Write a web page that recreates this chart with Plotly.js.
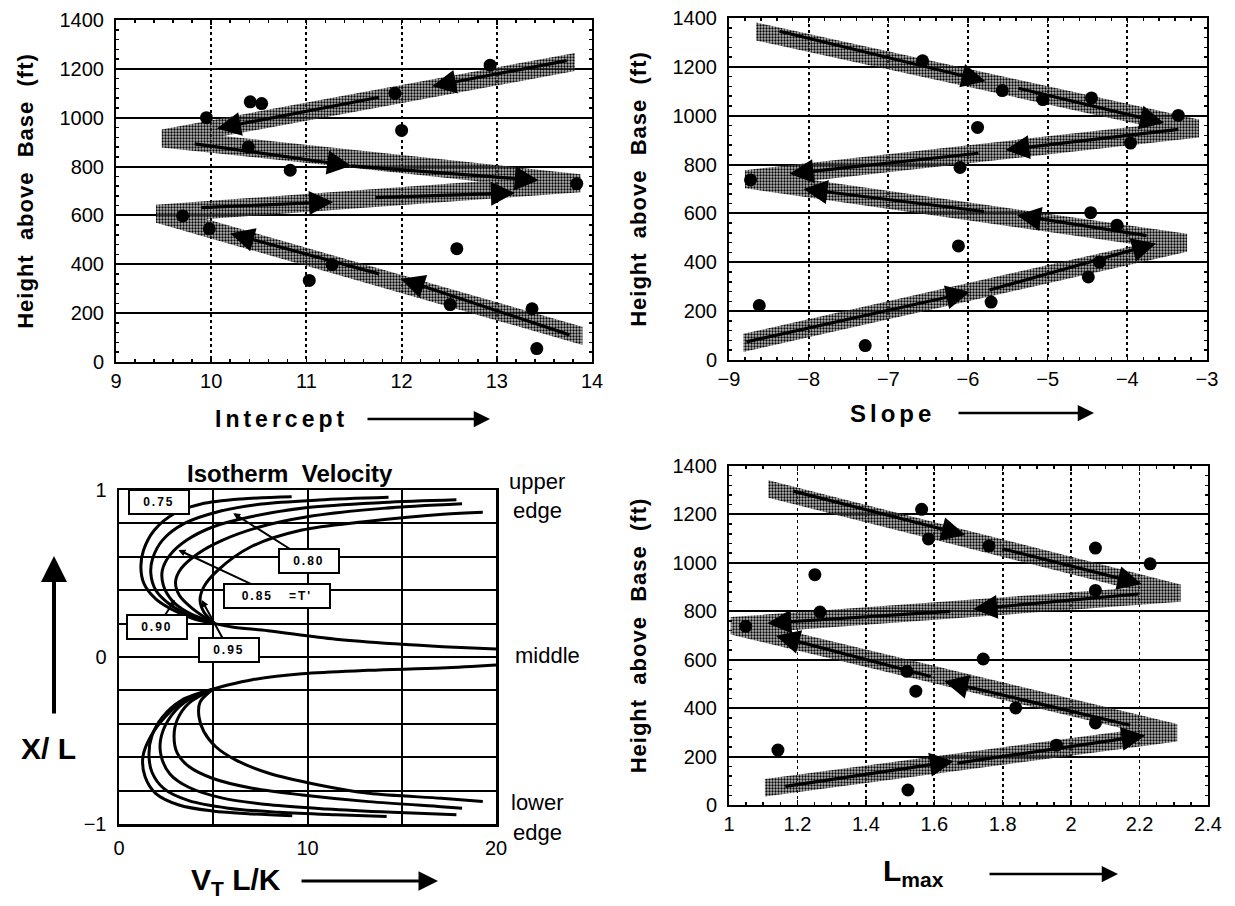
<!DOCTYPE html>
<html><head><meta charset="utf-8">
<script src="https://cdn.plot.ly/plotly-3.0.1.min.js"></script>
<style>
html,body{margin:0;padding:0;background:#fff;}
#chart{width:1235px;height:906px;}
.ytitle,.y2title,.y4title{letter-spacing:1px;}
</style>
</head><body><div id="chart"></div>
<script>
// ---------- Panel 1: Intercept ----------
const interceptX = [12.93,11.93,10.41,10.53,9.95,12.0,10.39,10.83,13.84,9.70,9.98,12.58,11.27,11.03,12.51,13.37,13.42];
const interceptH = [1215,1100,1065,1058,1000,948,880,785,730,598,545,464,398,334,235,218,55];
const interceptBandX = [13.9,9.42,13.88,9.48,13.82];
const interceptBandH = [107,607,732,915,1228];
const interceptArrTailX = [13.75,11.78,9.81,11.45,9.88,11.71,11.78,13.78];
const interceptArrTailH = [1235,1085,894,803,632,673,359,109];
const interceptArrHeadX = [12.32,10.06,11.47,13.44,11.28,13.19,10.20,11.99];
const interceptArrHeadH = [1129,956,803,744,655,692,526,341];

// ---------- Panel 2: Slope ----------
const slopeX = [-6.57,-5.57,-5.06,-4.45,-3.36,-5.88,-3.96,-6.10,-8.73,-4.46,-4.13,-6.12,-4.35,-4.49,-5.71,-8.62,-7.29];
const slopeH = [1225,1103,1066,1073,1001,952,888,788,737,603,552,467,401,340,237,223,59];
const slopeBandX = [-8.82,-3.25,-8.8,-3.1,-8.66];
const slopeBandH = [70,480,740,948,1345];
const slopeArrTailX = [-8.385,-5.385,-3.34,-5.85,-3.74,-5.78,-8.80,-5.75];
const slopeArrTailH = [1347,1114,945,847,508,607,73,285];
const slopeArrHeadX = [-5.78,-3.54,-5.53,-8.24,-5.385,-8.065,-5.975,-3.64];
const slopeArrHeadH = [1141,970,860,762,593,700,278,477];

// ---------- Panel 4: Lmax ----------
const lmaxX = [1.563,1.583,1.76,2.071,2.231,1.251,2.071,1.266,1.049,1.743,1.52,1.546,1.838,2.071,1.957,1.143,1.523];
const lmaxH = [1221,1099,1070,1061,996,951,886,797,738,603,552,470,401,339,247,227,62];
const lmaxBandX = [1.105,2.31,1.005,2.32,1.115];
const lmaxBandH = [71,298,740,875,1305];
const lmaxArrTailX = [1.183,1.794,2.20,1.651,2.177,1.594,1.16,1.663];
const lmaxArrTailH = [1298,1060,872,800,328,529,76,172];
const lmaxArrHeadX = [1.691,2.206,1.714,1.112,1.629,1.137,1.657,2.217];
const lmaxArrHeadH = [1115,913,809,751,511,699,181,287];

// ---------- Panel 3: Isotherm velocity (V_T L/K vs X/L) ----------
const isoLabels = ['0.75','0.80','0.85','0.90','0.95'];
const upperV = [
  [9.16,6.49,4.36,2.94,1.87,1.30,1.16,1.33,1.96,2.94,4.0,5.07],
  [14.3,10.6,7.56,5.25,3.47,2.31,1.78,1.69,1.96,2.67,3.65,5.07],
  [17.9,14.0,10.0,7.0,5.0,3.6,2.7,2.3,2.35,2.8,3.6,5.07],
  [18.2,14.0,10.0,7.5,5.5,4.2,3.3,3.0,3.2,3.9,5.07],
  [19.3,17.2,13.0,9.7,7.0,5.25,4.5,4.3,4.5,5.07]
];
const upperX = [
  [0.96,0.946,0.916,0.859,0.759,0.639,0.538,0.438,0.347,0.277,0.227,0.2],
  [0.956,0.94,0.916,0.87,0.8,0.70,0.588,0.498,0.398,0.317,0.253,0.2],
  [0.941,0.925,0.895,0.84,0.78,0.70,0.61,0.52,0.43,0.34,0.27,0.2],
  [0.917,0.89,0.84,0.78,0.70,0.62,0.53,0.45,0.37,0.29,0.2],
  [0.867,0.855,0.81,0.76,0.66,0.52,0.42,0.34,0.27,0.2]
];
const lowerV = [
  [5.0,3.53,2.47,1.68,1.27,1.38,1.94,3.18,4.95,7.07,9.19],
  [5.0,3.3,2.3,1.75,1.59,1.75,2.4,3.7,5.8,8.5,11.5,14.2],
  [5.0,3.5,2.6,2.2,2.25,2.7,3.7,5.5,8.0,11.0,14.5,17.9],
  [5.0,3.71,3.09,2.92,3.09,3.71,4.95,7.07,9.72,13.25,17.1,18.2],
  [5.0,4.3,4.24,4.5,5.12,6.18,7.95,10.6,13.25,17.1,19.3]
];
const lowerX = [
  [-0.192,-0.256,-0.356,-0.476,-0.596,-0.716,-0.816,-0.886,-0.922,-0.94,-0.95],
  [-0.192,-0.26,-0.36,-0.47,-0.58,-0.69,-0.79,-0.86,-0.905,-0.93,-0.945,-0.955],
  [-0.192,-0.27,-0.38,-0.5,-0.6,-0.7,-0.78,-0.845,-0.885,-0.91,-0.93,-0.945],
  [-0.192,-0.276,-0.376,-0.476,-0.576,-0.656,-0.726,-0.786,-0.826,-0.866,-0.896,-0.905],
  [-0.192,-0.27,-0.356,-0.446,-0.536,-0.616,-0.696,-0.766,-0.816,-0.846,-0.865]
];
const tailUpperV = [5.07,6.0,7.9,11.5,15.0,17.2,20];
const tailUpperX = [0.2,0.18,0.157,0.106,0.076,0.062,0.048];
const tailLowerV = [5.0,5.83,7.07,9.7,13.25,17.1,20];
const tailLowerX = [-0.192,-0.166,-0.136,-0.1,-0.08,-0.066,-0.048];
// label boxes (box centre) and leader tips
const labelBoxV = [2.12,10.08,8.38,2.02,5.84];
const labelBoxX = [0.926,0.575,0.365,0.18,0.042];
const labelTipV = [null,6.06,3.15,2.97,4.39];
const labelTipX = [null,0.861,0.641,0.341,0.341];
const labelText = ['0.75','0.80','0.85\u00a0\u00a0\u00a0=T\'','0.90','0.95'];

// ---------- helpers ----------
const W = 1235, H = 906;
const FONT = 'Liberation Sans, Arial, Helvetica, sans-serif';
const px = x => x / W, py = y => 1 - y / H;

function bandTrace(xs, ys, half, xa, ya) {
  const bx = [], by = [];
  for (let i = 0; i < xs.length - 1; i++) {
    let a = i, b = i + 1;
    if (xs[a] > xs[b]) { a = i + 1; b = i; }
    bx.push(xs[a], xs[b], xs[b], xs[a], null);
    by.push(ys[a] - half, ys[b] - half, ys[b] + half, ys[a] + half, null);
  }
  return {x: bx, y: by, xaxis: xa, yaxis: ya, mode: 'none', fill: 'toself',
    fillcolor: 'rgba(0,0,0,0)',
    fillpattern: {shape: '.', fgcolor: '#000', bgcolor: 'rgba(125,125,125,0.55)', size: 3, solidity: 0.45},
    hoverinfo: 'skip', showlegend: false};
}
function dotTrace(xs, ys, xa, ya) {
  return {x: xs, y: ys, xaxis: xa, yaxis: ya, mode: 'markers', type: 'scatter',
    marker: {size: 13, color: '#000'}, showlegend: false};
}
function arrowAnns(tx, ty, hx, hy, xr, yr) {
  return tx.map((_, i) => ({x: hx[i], y: hy[i], ax: tx[i], ay: ty[i], xref: xr, yref: yr,
    axref: xr, ayref: yr, text: '', showarrow: true, arrowhead: 2, arrowsize: 1.5,
    arrowwidth: 3.2, arrowcolor: '#000', standoff: 0, startstandoff: 0}));
}

const traces = [
  bandTrace(interceptBandX, interceptBandH, 37, 'x', 'y'),
  dotTrace(interceptX, interceptH, 'x', 'y'),
  bandTrace(slopeBandX, slopeBandH, 37, 'x2', 'y2'),
  dotTrace(slopeX, slopeH, 'x2', 'y2'),
  bandTrace(lmaxBandX, lmaxBandH, 36, 'x4', 'y4'),
  dotTrace(lmaxX, lmaxH, 'x4', 'y4')
];
for (let i = 0; i < isoLabels.length; i++) {
  traces.push({x: upperV[i], y: upperX[i], xaxis: 'x3', yaxis: 'y3', mode: 'lines', name: isoLabels[i],
    line: {color: '#000', width: 3, shape: 'spline', smoothing: 0.9}, showlegend: false});
  traces.push({x: lowerV[i], y: lowerX[i], xaxis: 'x3', yaxis: 'y3', mode: 'lines', name: isoLabels[i],
    line: {color: '#000', width: 3, shape: 'spline', smoothing: 0.9}, showlegend: false});
}
traces.push({x: tailUpperV, y: tailUpperX, xaxis: 'x3', yaxis: 'y3', mode: 'lines',
  line: {color: '#000', width: 3, shape: 'spline'}, showlegend: false});
traces.push({x: tailLowerV, y: tailLowerX, xaxis: 'x3', yaxis: 'y3', mode: 'lines',
  line: {color: '#000', width: 3, shape: 'spline'}, showlegend: false});

const tickFont = {family: FONT, size: 20, color: '#000'};
const yTitle = {text: '<b>Height\u00a0\u00a0above\u00a0\u00a0Base\u00a0\u00a0(ft)</b>',
  font: {family: FONT, size: 22, color: '#000'}, standoff: 20};

function heightAxis(domain, anchor) {
  return {domain: domain, anchor: anchor, range: [0, 1400], tickvals: [0,200,400,600,800,1000,1200,1400],
    showgrid: true, gridcolor: '#000', gridwidth: 2, zeroline: false,
    showline: true, linecolor: '#000', linewidth: 2, mirror: 'allticks',
    ticks: 'inside', ticklen: 5, tickwidth: 1.5, tickcolor: '#000', ticklabelstandoff: 6,
    minor: {dtick: 40, ticks: 'inside', ticklen: 3, tickcolor: '#000', tickwidth: 1.5, showgrid: false},
    tickfont: tickFont, title: yTitle, fixedrange: true};
}
function valueAxis(domain, anchor, range, dtick, minorDtick) {
  return {domain: domain, anchor: anchor, range: range, dtick: dtick, tick0: range[0],
    showgrid: true, gridcolor: '#000', gridwidth: 1.8, griddash: 'dot', zeroline: false,
    showline: true, linecolor: '#000', linewidth: 2, mirror: 'allticks',
    ticks: 'inside', ticklen: 5, tickwidth: 1.5, tickcolor: '#000',
    minor: {dtick: minorDtick, ticks: 'inside', ticklen: 3, tickcolor: '#000', tickwidth: 1.5, showgrid: false},
    tickfont: tickFont, fixedrange: true};
}

const layout = {
  width: W, height: H, margin: {l: 0, r: 0, t: 0, b: 0},
  paper_bgcolor: '#fff', plot_bgcolor: '#fff', showlegend: false,
  font: {family: FONT, color: '#000'},
  xaxis: valueAxis([116 / W, 592 / W], 'y', [9, 14], 1, 0.2),
  yaxis: heightAxis([1 - 362 / H, 1 - 20 / H], 'x'),
  xaxis2: valueAxis([729 / W, 1207 / W], 'y2', [-9, -3], 1, 0.2),
  yaxis2: heightAxis([1 - 360 / H, 1 - 18 / H], 'x2'),
  xaxis4: valueAxis([729 / W, 1208 / W], 'y4', [1, 2.4], 0.2, 0.05),
  yaxis4: heightAxis([1 - 805 / H, 1 - 466 / H], 'x4'),
  xaxis3: {domain: [119 / W, 496 / W], anchor: 'y3', range: [0, 20], tickvals: [0,10,20],
    showgrid: true, gridcolor: '#000', gridwidth: 2, zeroline: false,
    minor: {tick0: 0, dtick: 5, showgrid: true, gridcolor: '#000', gridwidth: 2, ticks: ''},
    showline: true, linecolor: '#000', linewidth: 2.5, mirror: true, ticks: '', ticklabelstandoff: 4,
    tickfont: {family: FONT, size: 20, color: '#000'}, fixedrange: true},
  yaxis3: {domain: [1 - 824 / H, 1 - 490 / H], anchor: 'x3', range: [-1, 1],
    tickvals: [-1,0,1],
    showgrid: true, gridcolor: '#000', gridwidth: 2, zeroline: false,
    minor: {tick0: 0, dtick: 0.2, showgrid: true, gridcolor: '#000', gridwidth: 2, ticks: ''},
    showline: true, linecolor: '#000', linewidth: 2.5, mirror: true, ticks: '', ticklabelstandoff: 6,
    tickfont: {family: FONT, size: 20, color: '#000'}, fixedrange: true},
  annotations: []
};

let anns = [];
anns = anns.concat(arrowAnns(interceptArrTailX, interceptArrTailH, interceptArrHeadX, interceptArrHeadH, 'x', 'y'));
anns = anns.concat(arrowAnns(slopeArrTailX, slopeArrTailH, slopeArrHeadX, slopeArrHeadH, 'x2', 'y2'));
anns = anns.concat(arrowAnns(lmaxArrTailX, lmaxArrTailH, lmaxArrHeadX, lmaxArrHeadH, 'x4', 'y4'));

const spaced = []; // [annotation index, letter spacing px]

// label boxes in panel 3
for (let i = 0; i < labelText.length; i++) {
  const hasTip = labelTipV[i] !== null;
  const a = {xref: 'x3', yref: 'y3', text: '<b>' + labelText[i] + '</b>',
    font: {family: FONT, size: 12, color: '#000'}, bgcolor: '#fff', bordercolor: '#000', borderwidth: 2,
    width: i === 2 ? 102 : 56, height: 20, borderpad: 1};
  if (hasTip) {
    Object.assign(a, {x: labelTipV[i], y: labelTipX[i], ax: labelBoxV[i], ay: labelBoxX[i], axref: 'x3', ayref: 'y3',
      showarrow: true, arrowhead: 2, arrowsize: 0.7, arrowwidth: 2, arrowcolor: '#000', standoff: 0});
  } else {
    Object.assign(a, {x: labelBoxV[i], y: labelBoxX[i], showarrow: false});
  }
  spaced.push([anns.length, 2]);
  anns.push(a);
}

// titles and text in paper coords
function txt(text, x, y, size) {
  return {xref: 'paper', yref: 'paper', x: px(x), y: py(y), text: text, showarrow: false,
    font: {family: FONT, size: size, color: '#000'}, xanchor: 'center', yanchor: 'middle'};
}
function longArrow(x0, y0, x1, y1, w) {
  return {xref: 'paper', yref: 'paper', x: px(x1), y: py(y1), axref: 'pixel', ayref: 'pixel',
    ax: x0 - x1, ay: y0 - y1, text: '', showarrow: true, arrowhead: 2, arrowsize: 1.3, arrowwidth: w || 3,
    arrowcolor: '#000', standoff: 0};
}
spaced.push([anns.length, 4]);
anns.push(txt('<b>Intercept</b>', 281, 419, 23));
anns.push(longArrow(366, 419, 490, 419, 2.5));
spaced.push([anns.length, 4]);
anns.push(txt('<b>Slope</b>', 892, 413, 24));
anns.push(longArrow(957, 413, 1094, 413, 2.5));
anns.push(txt('<b>L<sub>max</sub></b>', 913, 872, 30));
anns.push(longArrow(988, 874, 1118, 874, 2.5));
anns.push(txt('<b>V<sub>T</sub> L/K</b>', 236, 881, 30));
anns.push(longArrow(300, 881, 438, 881, 3));
anns.push(txt('<b>X/ L</b>', 48, 748, 30));
anns.push(longArrow(54, 715, 54, 556, 4));
anns.push(txt('<b>Isotherm\u00a0\u00a0Velocity</b>', 290, 473, 24));
anns.push(txt('upper', 537, 481, 22));
anns.push(txt('edge', 537, 510, 22));
anns.push(txt('middle', 547, 655, 22));
anns.push(txt('lower', 537, 802, 22));
anns.push(txt('edge', 537, 832, 22));
layout.annotations = anns;

// letter spacing for the spaced-out labels of the original figure
const css = spaced.map(s => '.annotation[data-index="' + s[0] + '"] text{letter-spacing:' + s[1] + 'px;}').join('\n');
const st = document.createElement('style'); st.textContent = css; document.head.appendChild(st);

Plotly.newPlot('chart', traces, layout, {staticPlot: true, displayModeBar: false});
</script>
</body></html>
